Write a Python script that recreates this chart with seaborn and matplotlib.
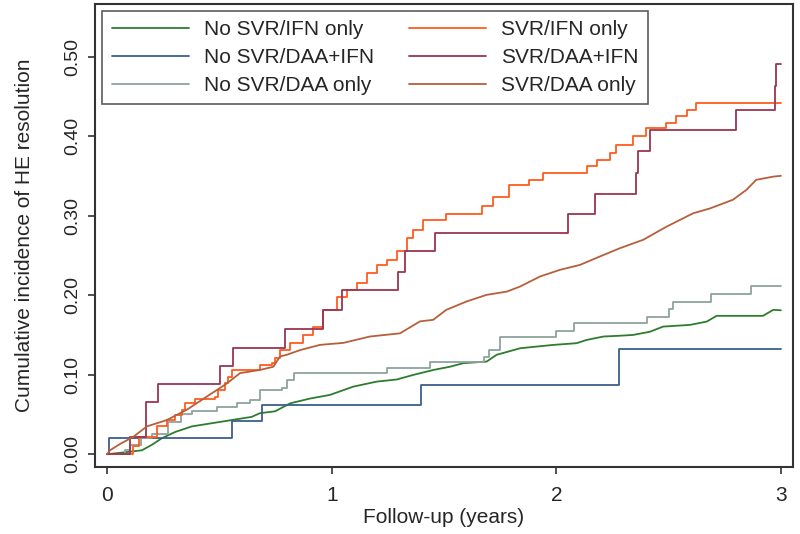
import pandas as pd
import matplotlib
matplotlib.use("Agg")
import matplotlib.pyplot as plt
import seaborn as sns

# ---------- DATA ----------
LABELS = [
    "No SVR/IFN only",
    "No SVR/DAA+IFN",
    "No SVR/DAA only",
    "SVR/IFN only",
    "SVR/DAA+IFN",
    "SVR/DAA only",
]
COLORS = ["#2e7d2e", "#3a5f8a", "#8fa39e", "#ff5c1f", "#9a3550", "#b5603a"]

# No SVR/IFN only (many small steps)
t_no_ifn = [0, 0.095, 0.155, 0.2, 0.243, 0.303, 0.377, 0.466, 0.555, 0.644, 0.68, 0.748,
            0.815, 0.903, 0.992, 1.096, 1.2, 1.29, 1.364, 1.453, 1.526, 1.586, 1.69, 1.734,
            1.84, 1.988, 2.09, 2.135, 2.21, 2.283, 2.342, 2.417, 2.476, 2.595, 2.67, 2.714,
            2.92, 2.966, 3.0]
v_no_ifn = [0, 0.003, 0.005, 0.012, 0.02, 0.028, 0.035, 0.039, 0.043, 0.047, 0.0516, 0.054,
            0.064, 0.07, 0.0746, 0.085, 0.0913, 0.094, 0.0998, 0.106, 0.110, 0.1145, 0.1165, 0.125,
            0.1333, 0.1375, 0.1396, 0.1437, 0.148, 0.149, 0.150, 0.154, 0.1605, 0.1626, 0.1668, 0.174,
            0.174, 0.1815, 0.181]

# No SVR/DAA+IFN
t_no_daa_ifn = [0, 0.01, 0.555, 0.689, 1.397, 2.28, 3.0]
v_no_daa_ifn = [0, 0.021, 0.042, 0.0625, 0.0875, 0.132, 0.132]

# No SVR/DAA only
t_no_daa = [0, 0.08, 0.1, 0.15, 0.2, 0.27, 0.33, 0.38, 0.49, 0.577, 0.636, 0.68, 0.777,
            0.80, 0.83, 1.245, 1.437, 1.678, 1.70, 1.749, 2.0, 2.078, 2.405, 2.50, 2.52,
            2.687, 2.865, 3.0]
v_no_daa = [0, 0.005, 0.012, 0.02, 0.025, 0.04, 0.05, 0.055, 0.06, 0.064, 0.068, 0.081, 0.083,
            0.093, 0.102, 0.1085, 0.1165, 0.122, 0.131, 0.147, 0.155, 0.165, 0.173, 0.182, 0.192,
            0.2016, 0.212, 0.212]

# SVR/IFN only
t_svr_ifn = [0, 0.117, 0.14, 0.221, 0.265, 0.303, 0.333, 0.347, 0.392, 0.48, 0.495, 0.525,
             0.54, 0.555, 0.68, 0.733, 0.748, 0.77, 0.815, 0.87, 0.918, 0.963, 1.022, 1.067,
             1.111, 1.156, 1.20, 1.245, 1.289, 1.334, 1.363, 1.408, 1.51, 1.667, 1.72, 1.79,
             1.88, 1.94, 2.135, 2.18, 2.238, 2.268, 2.342, 2.40, 2.49, 2.535, 2.58, 2.624, 3.0]
v_svr_ifn = [0, 0.01, 0.022, 0.035, 0.043, 0.049, 0.056, 0.064, 0.070, 0.0725, 0.081, 0.089,
             0.0976, 0.106, 0.1123, 0.1145, 0.121, 0.131, 0.14, 0.15, 0.16, 0.1815, 0.198, 0.207,
             0.215, 0.228, 0.238, 0.244, 0.255, 0.272, 0.282, 0.295, 0.302, 0.3115, 0.324, 0.339,
             0.345, 0.353, 0.362, 0.370, 0.379, 0.389, 0.3995, 0.41, 0.417, 0.4246, 0.433, 0.4415, 0.4415]

# SVR/DAA+IFN
t_svr_daa_ifn = [0, 0.102, 0.172, 0.228, 0.503, 0.562, 0.792, 0.96, 1.044, 1.297, 1.326, 1.46,
                 2.053, 2.172, 2.357, 2.365, 2.417, 2.80, 2.973, 2.98, 3.0]
v_svr_daa_ifn = [0, 0.022, 0.066, 0.0885, 0.111, 0.133, 0.157, 0.1815, 0.206, 0.2297, 0.255, 0.278,
                 0.302, 0.327, 0.353, 0.381, 0.408, 0.433, 0.463, 0.49, 0.49]

# SVR/DAA only (many small steps)
t_svr_daa = [0, 0.013, 0.058, 0.117, 0.177, 0.266, 0.355, 0.444, 0.533, 0.592, 0.681, 0.74,
             0.77, 0.80, 0.86, 0.948, 1.052, 1.17, 1.304, 1.393, 1.452, 1.51, 1.60, 1.69, 1.78,
             1.84, 1.927, 2.016, 2.105, 2.194, 2.283, 2.387, 2.49, 2.61, 2.684, 2.787, 2.847,
             2.89, 2.966, 3.0]
v_svr_daa = [0, 0.005, 0.013, 0.022, 0.035, 0.043, 0.056, 0.0725, 0.089, 0.102, 0.106, 0.110,
             0.123, 0.125, 0.131, 0.1375, 0.14, 0.148, 0.152, 0.167, 0.169, 0.1815, 0.192, 0.2004,
             0.2045, 0.211, 0.2234, 0.2318, 0.238, 0.2486, 0.259, 0.2696, 0.286, 0.303, 0.309,
             0.320, 0.3325, 0.345, 0.349, 0.35]

SERIES = [
    (t_no_ifn, v_no_ifn, False),
    (t_no_daa_ifn, v_no_daa_ifn, True),
    (t_no_daa, v_no_daa, True),
    (t_svr_ifn, v_svr_ifn, True),
    (t_svr_daa_ifn, v_svr_daa_ifn, True),
    (t_svr_daa, v_svr_daa, False),
]

X_TICKS = [0, 1, 2, 3]
Y_TICKS = [0.0, 0.1, 0.2, 0.3, 0.4, 0.5]

# ---------- PLOT ----------
sns.set_theme(style="white")
plt.rcParams["font.family"] = ["Liberation Sans", "DejaVu Sans"]

fig = plt.figure(figsize=(8, 5.34), dpi=100)
ax = fig.add_axes([0.119, 0.1255, 0.872, 0.867])

for label, color, (t, v, step) in zip(LABELS, COLORS, SERIES):
    df = pd.DataFrame({"t": t, "v": v})
    sns.lineplot(data=df, x="t", y="v", ax=ax, color=color, linewidth=1.3,
                 estimator=None, sort=False, label=label,
                 drawstyle="steps-post" if step else "default")

ax.set_xlim(-0.053, 3.053)
ax.set_ylim(-0.016, 0.566)
ax.set_xticks(X_TICKS)
ax.set_xticklabels([str(x) for x in X_TICKS], fontsize=15)
ax.set_yticks(Y_TICKS)
ax.set_yticklabels([f"{y:.2f}" for y in Y_TICKS], fontsize=14, rotation=90, va="center")
ax.tick_params(axis="both", direction="out", length=5, width=1.2, color="#333333",
               bottom=True, left=True)
ax.tick_params(axis="x", pad=9)
ax.tick_params(axis="y", pad=5)
ax.set_xlabel("Follow-up (years)", fontsize=15, labelpad=2)
ax.set_ylabel("Cumulative incidence of HE resolution", fontsize=15, labelpad=22)

for spine in ax.spines.values():
    spine.set_color("#333333")
    spine.set_linewidth(1.5)

leg = ax.legend(ncol=2, loc="upper left", bbox_to_anchor=(0.01, 0.985), borderaxespad=0,
                fontsize=15, handlelength=3.7, handletextpad=0.72, columnspacing=1.7,
                labelspacing=0.42, frameon=True, fancybox=False, borderpad=0.45)
leg.get_frame().set_edgecolor("#333333")
leg.get_frame().set_linewidth(1.2)
for line in leg.get_lines():
    line.set_linewidth(1.3)

fig.savefig("out.png", dpi=100)
